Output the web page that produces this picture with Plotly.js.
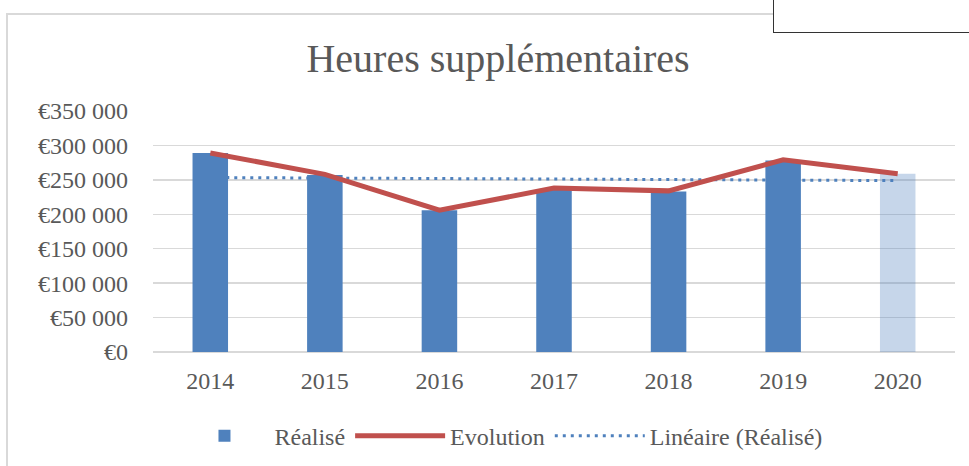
<!DOCTYPE html>
<html>
<head>
<meta charset="utf-8">
<script src="https://cdn.plot.ly/plotly-3.0.1.min.js"></script>
<style>
  html, body { margin: 0; padding: 0; background: #fff; }
  #wrap { position: relative; width: 969px; height: 466px; overflow: hidden; }
  #chart { position: absolute; left: 0; top: 0; width: 969px; height: 466px; }
  #frame { position: absolute; left: 6px; top: 13px; width: 980px; height: 470px;
           border-left: 2px solid #d9d9d9; border-top: 2px solid #d9d9d9; pointer-events: none; }
  #box { position: absolute; left: 773px; top: -10px; width: 210px; height: 41px;
         border: 1.5px solid #333; background: #fff; pointer-events: none; }
</style>
</head>
<body>
<div id="wrap">
  <div id="chart"></div>
  <div id="frame"></div>
  <div id="box"></div>
</div>
<script>
// ---- data ----
const years = ['2014', '2015', '2016', '2017', '2018', '2019', '2020'];
const realise = [289000, 257000, 206000, 236000, 233000, 278000, 259000];
const evolution = [289000, 258000, 206000, 238000, 234000, 279000, 259000];
const trendYears = ['2014', '2020'];
const trendValues = [253400, 248900];
const yTickVals = [0, 50000, 100000, 150000, 200000, 250000, 300000, 350000];
const yTickText = ['€0', '€50 000', '€100 000', '€150 000', '€200 000', '€250 000', '€300 000', '€350 000'];

const FONT = '"Liberation Serif", "DejaVu Serif", serif';
const barColors = realise.map((v, i) => i === realise.length - 1 ? 'rgba(79,129,189,0.32)' : '#4F81BD');

const traces = [
  {
    type: 'bar', name: 'Réalisé', x: years, y: realise,
    marker: { color: barColors, line: { width: 0 } },
    width: 0.31, zorder: 1, hoverinfo: 'x+y'
  },
  {
    type: 'scatter', mode: 'lines', name: 'Evolution', x: years, y: evolution,
    line: { color: '#C0504D', width: 5 }, zorder: 2
  },
  {
    type: 'scatter', mode: 'lines', name: 'Linéaire (Réalisé)', x: trendYears, y: trendValues,
    line: { color: '#4F81BD', width: 3, dash: '3px,5px' }, zorder: 0
  }
];

const layout = {
  width: 969, height: 466,
  margin: { l: 153, r: 14, t: 111, b: 114 },
  paper_bgcolor: 'rgba(0,0,0,0)', plot_bgcolor: '#fff',
  font: { family: FONT, color: '#595959', size: 24 },
  title: {
    text: 'Heures supplémentaires',
    font: { family: FONT, size: 40, color: '#595959' },
    x: 0.514, xanchor: 'center', y: 0.876, yanchor: 'middle'
  },
  xaxis: {
    type: 'category', showgrid: false, zeroline: false, showline: false,
    ticks: '', ticklabelstandoff: 12,
    tickfont: { family: FONT, size: 24, color: '#595959' }
  },
  yaxis: {
    range: [0, 350000], tickvals: yTickVals, ticktext: yTickText,
    showgrid: true, gridcolor: '#D9D9D9', gridwidth: 1.5,
    zeroline: true, zerolinecolor: '#D9D9D9', zerolinewidth: 2,
    showline: false, ticks: '', ticklabelstandoff: 24,
    tickfont: { family: FONT, size: 24, color: '#595959' }
  },
  showlegend: true,
  legend: {
    orientation: 'h', xref: 'container', yref: 'container',
    x: 0.517, xanchor: 'center', y: 0.064, yanchor: 'middle',
    font: { family: FONT, size: 24, color: '#595959' },
    traceorder: 'normal', itemwidth: 90
  },
  bargap: 0.69
};

Plotly.newPlot('chart', traces, layout, { displayModeBar: false, staticPlot: true });
</script>
</body>
</html>
